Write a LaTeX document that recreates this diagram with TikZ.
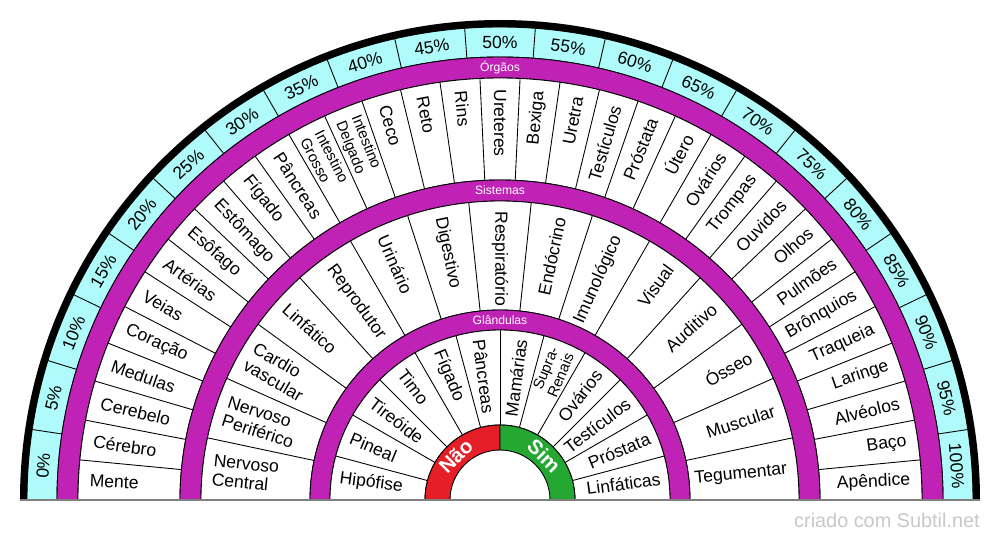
\documentclass[tikz,border=0pt]{standalone}
\usepackage{fontspec}
\setmainfont{Liberation Sans}
\usepackage{tikz}

\definecolor{pctcyan}{RGB}{175,250,250}
\definecolor{bandmag}{RGB}{192,34,182}
\definecolor{naored}{RGB}{230,30,40}
\definecolor{simgreen}{RGB}{36,168,50}
\definecolor{markgray}{RGB}{200,200,200}

\tikzset{
    ringline/.style={draw=black, line width=0.5pt},
    radial/.code={\ifdim #1pt<89.9pt \tikzset{anchor=east, rotate=#1, align=right}\else\tikzset{anchor=west, rotate=#1-180, align=left}\fi},
    lbl/.style={inner sep=0pt, font=\fontsize{10}{11}\selectfont},
    lblsmall/.style={inner sep=0pt, font=\fontsize{8.5}{9.4}\selectfont},
    pct/.style={inner sep=0pt, font=\fontsize{10}{12}\selectfont},
    bandlbl/.style={inner sep=0pt, text=white, font=\fontsize{6.9}{8}\selectfont},
    yesno/.style={inner sep=0pt, text=white, font=\fontsize{11.5}{13}\selectfont\bfseries},
}

\begin{document}
\begin{tikzpicture}[x=0.2mm, y=0.2mm]
    \useasboundingbox (-500,-40) rectangle (500,500);

    % Rings
    \foreach \ri/\ro/\col in {443/473/pctcyan, 422/443/bandmag, 320/422/white, 299/320/bandmag, 190/299/white, 170/190/bandmag, 75/170/white}
        \filldraw[fill=\col, ringline] (0:\ro) arc[start angle=0, end angle=180, radius=\ro] -- (180:\ri) arc[start angle=180, end angle=0, radius=\ri] -- cycle;

    % Nao / Sim
    \filldraw[fill=naored, ringline] (90:75) arc[start angle=90, end angle=180, radius=75] -- (180:50) arc[start angle=180, end angle=90, radius=50] -- cycle;
    \filldraw[fill=simgreen, ringline] (0:75) arc[start angle=0, end angle=90, radius=75] -- (90:50) arc[start angle=90, end angle=0, radius=50] -- cycle;

    % Slice lines
    \foreach \k in {1,...,20} \draw[ringline] ({\k*180/21}:443) -- ({\k*180/21}:473);
    \foreach \k in {1,...,32} \draw[ringline] ({\k*180/33}:320) -- ({\k*180/33}:422);
    \foreach \k in {1,...,14} \draw[ringline] ({\k*12}:190) -- ({\k*12}:299);
    \foreach \k in {1,...,11} \draw[ringline] ({\k*15}:75) -- ({\k*15}:170);

    % Outer rim and base line
    \fill (0:480) arc[start angle=0, end angle=180, radius=480] -- (180:473) arc[start angle=180, end angle=0, radius=473] -- cycle;
    \draw[gray, line width=0.4mm] (-480,0) -- (480,0);

    % Percent labels
    \foreach \k in {0,...,20} {
        \pgfmathsetmacro\a{180-(\k+0.5)*180/21}
        \pgfmathtruncatemacro\v{5*\k}
        \node[pct, rotate=\a-90] (pct\k) at (\a:458) {\v\%};
    }

    % Band labels
    \node[bandlbl] (orgaos) at (90:432.5) {Órgãos};
    \node[bandlbl] (sistemas) at (90:309.5) {Sistemas};
    \node[bandlbl] (glandulas) at (90:180) {Glândulas};

    % Organs
    \foreach \t/\s [count=\i from 0] in {Mente/lbl, Cérebro/lbl, Cerebelo/lbl, Medulas/lbl, Coração/lbl, Veias/lbl, Artérias/lbl, Esôfago/lbl, Estômago/lbl, Fígado/lbl, Pâncreas/lbl, {Intestino\\Grosso}/lblsmall, {Intestino\\Delgado}/lblsmall, Ceco/lbl, Reto/lbl, Rins/lbl, Ureteres/lbl, Bexiga/lbl, Uretra/lbl, Testículos/lbl, Próstata/lbl, Útero/lbl, Ovários/lbl, Trompas/lbl, Ouvidos/lbl, Olhos/lbl, Pulmões/lbl, Brônquios/lbl, Traqueia/lbl, Laringe/lbl, Alvéolos/lbl, Baço/lbl, Apêndice/lbl} {
        \pgfmathsetmacro\a{180-(\i+0.5)*180/33}
        \node[\s, radial=\a] (org\i) at (\a:411) {\t};
    }

    % Systems
    \foreach \t [count=\i from 0] in {Nervoso\\Central, Nervoso\\Periférico, Cardio\\vascular, Linfático, Reprodutor, Urinário, Digestivo, Respiratório, Endócrino, Imunológico, Visual, Auditivo, Ósseo, Muscular, Tegumentar} {
        \pgfmathsetmacro\a{180-(\i+0.5)*12}
        \node[lbl, radial=\a] (sis\i) at (\a:289) {\t};
    }

    % Glands
    \foreach \t/\s [count=\i from 0] in {Hipófise/lbl, Pineal/lbl, Tireóide/lbl, Timo/lbl, Fígado/lbl, Pâncreas/lbl, Mamárias/lbl, {Supra-\\Renais}/lblsmall, Ovários/lbl, Testículos/lbl, Próstata/lbl, Linfáticas/lbl} {
        \pgfmathsetmacro\a{180-(\i+0.5)*15}
        \node[\s, radial=\a] (gla\i) at (\a:162) {\t};
    }

    % Answers
    \node[yesno, rotate=45] (nao) at (135:62.5) {Não};
    \node[yesno, rotate=-45] (sim) at (45:62.5) {Sim};

    % Mark
    \node[anchor=base east, inner sep=0pt, text=markgray, font=\fontsize{11.3}{13}\selectfont] (mark) at (480,-27) {criado com Subtil.net};

\end{tikzpicture}
\end{document}
